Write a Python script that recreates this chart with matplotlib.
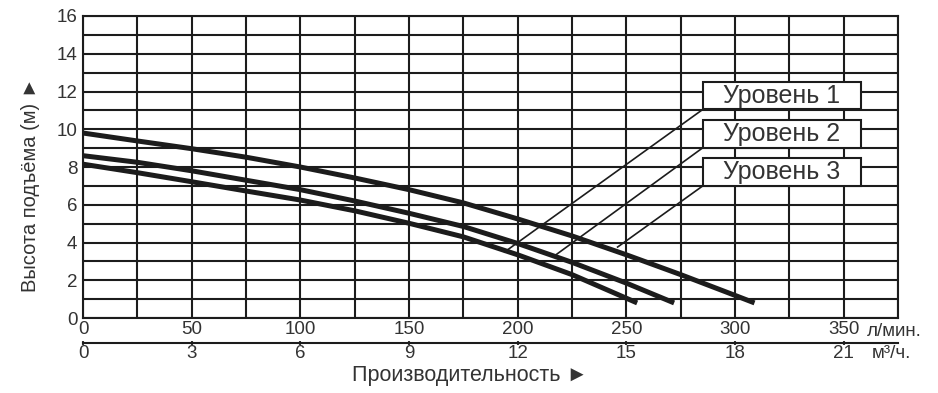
import numpy as np
import matplotlib.pyplot as plt
from matplotlib.patches import Rectangle

plt.rcParams['font.family'] = ['Liberation Sans', 'DejaVu Sans']

# flow in l/min, head in m
q1 = [0, 25, 50, 75, 100, 125, 150, 175, 200, 225, 250, 275, 300, 309]
h1 = [9.8, 9.38, 8.97, 8.52, 8.0, 7.42, 6.8, 6.1, 5.25, 4.35, 3.35, 2.3, 1.2, 0.8]
q2 = [0, 25, 50, 75, 100, 125, 150, 175, 200, 225, 250, 272]
h2 = [8.6, 8.25, 7.8, 7.3, 6.8, 6.2, 5.55, 4.85, 3.95, 2.95, 1.85, 0.8]
q3 = [0, 25, 50, 75, 100, 125, 150, 175, 200, 225, 255]
h3 = [8.15, 7.7, 7.22, 6.73, 6.25, 5.68, 5.02, 4.3, 3.35, 2.3, 0.8]

levels = ['Уровень 1', 'Уровень 2', 'Уровень 3']
lpm_ticks = [0, 50, 100, 150, 200, 250, 300, 350]
m3h_ticks = [0, 3, 6, 9, 12, 15, 18, 21]

ink = '#1c1c1c'

fig = plt.figure(figsize=(9.38, 3.93), dpi=100)
ax = fig.add_axes([0.0885, 0.1908, 0.8688, 0.7685])
ax.set_xlim(0, 375)
ax.set_ylim(0, 16)

ax.set_xticks(lpm_ticks)
ax.set_xticks(np.arange(25, 376, 50), minor=True)
ax.set_yticks(np.arange(0, 17, 2))
ax.set_yticks(np.arange(1, 16, 2), minor=True)
ax.grid(which='both', color=ink, linewidth=1.5)
ax.set_axisbelow(True)
for s in ax.spines.values():
    s.set_color(ink)
    s.set_linewidth(1.5)
ax.tick_params(which='both', length=0, labelsize=13.5, colors='#333333')
ax.tick_params(axis='x', pad=2.5)
ax.tick_params(axis='y', pad=4)

# curves
for q, h in [(q1, h1), (q2, h2), (q3, h3)]:
    ax.plot(q, h, color=ink, linewidth=3.6, solid_capstyle='butt',
            solid_joinstyle='round', zorder=3)

# labels with leader lines
box_y = [11.05, 9.02, 7.0]
tips = [(194, 3.5), (217.5, 3.34), (246, 3.76)]
for name, y0, tip in zip(levels, box_y, tips):
    ax.plot([285.2, tip[0]], [y0, tip[1]], color=ink, linewidth=1.2, zorder=4)
    ax.add_patch(Rectangle((285.2, y0), 72.7, 1.47, facecolor='white',
                           edgecolor=ink, linewidth=1.5, zorder=5))
    ax.text(321.5, y0 + 0.72, name, ha='center', va='center', fontsize=18,
            color='#333333', zorder=6)

# second scale in m3/h
sec = ax.secondary_xaxis(-0.083, functions=(lambda x: x * 0.06, lambda x: x / 0.06))
sec.set_xticks(m3h_ticks)
sec.tick_params(direction='inout', length=3, width=1.5, pad=0, labelsize=13.5,
                colors='#333333')
sec.spines['bottom'].set_color(ink)
sec.spines['bottom'].set_linewidth(1.5)

ax.text(360.6, -0.043, 'л/мин.', transform=ax.get_xaxis_transform(),
        ha='left', va='center', fontsize=13.5, color='#333333')
ax.text(363, -0.116, 'м³/ч.', transform=ax.get_xaxis_transform(),
        ha='left', va='center', fontsize=13.5, color='#333333')

fig.text(30 / 938, 1 - 185 / 393, 'Высота подъёма (м) ►', rotation=90,
         ha='center', va='center', fontsize=14.5, color='#333333')
fig.text(470 / 938, 1 - 376 / 393, 'Производительность ►',
         ha='center', va='center', fontsize=15.5, color='#333333')

fig.savefig('out.png', dpi=100)
